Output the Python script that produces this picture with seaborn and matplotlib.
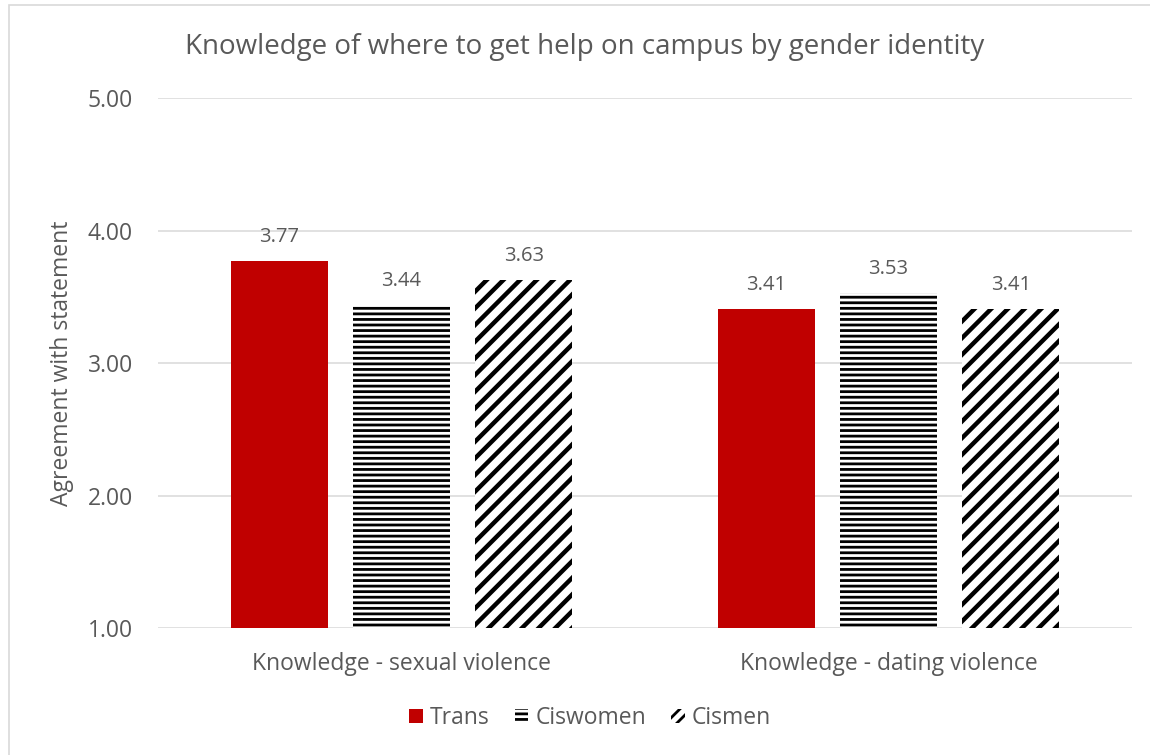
import pandas as pd
import matplotlib
matplotlib.use("Agg")
import matplotlib.pyplot as plt
import seaborn as sns
from matplotlib.patches import Rectangle

# Data
categories = ["Knowledge - sexual violence", "Knowledge - dating violence"]
groups = ["Trans", "Ciswomen", "Cismen"]
trans = [3.77, 3.41]
ciswomen = [3.44, 3.53]
cismen = [3.63, 3.41]
y_ticks = [1.00, 2.00, 3.00, 4.00, 5.00]

df = pd.DataFrame({
    "category": categories * 3,
    "group": ["Trans"] * 2 + ["Ciswomen"] * 2 + ["Cismen"] * 2,
    "value": trans + ciswomen + cismen,
})

sns.set_theme(style="white")
plt.rcParams["font.family"] = ["Open Sans", "DejaVu Sans"]
plt.rcParams["hatch.linewidth"] = 2.0
text_col = "#595959"
grid_col = "#D9D9D9"

fig = plt.figure(figsize=(11.5, 7.55), dpi=100)
ax = fig.add_axes([0.1374, 0.1682, 0.8469, 0.702])

palette = {"Trans": "#C00000", "Ciswomen": "white", "Cismen": "white"}
sns.barplot(data=df, x="category", y="value", hue="group", hue_order=groups,
            palette=palette, width=0.753, gap=0.203, ax=ax, legend=False,
            saturation=1, zorder=3)

hatches = {"Trans": None, "Ciswomen": "---", "Cismen": "//"}
hatch_lw = {"Trans": 1.0, "Ciswomen": 2.0, "Cismen": 3.2}


def style_hatch(p, g):
    if hatches[g]:
        p.set_edgecolor("black")
        p.set_hatch(hatches[g])
        p._hatch_linewidth = hatch_lw[g]
    p.set_linewidth(0)


for cont, g in zip(ax.containers, groups):
    for bar in cont:
        style_hatch(bar, g)
    ax.bar_label(cont, fmt="%.2f", padding=10, color=text_col, fontsize=14.5)

ax.set_ylim(1, 5)
ax.set_yticks(y_ticks)
ax.set_yticklabels([f"{t:.2f}" for t in y_ticks])
ax.yaxis.grid(True, color=grid_col, linewidth=1.1, zorder=0)
ax.set_axisbelow(True)
for s in ax.spines.values():
    s.set_visible(False)
ax.tick_params(axis="y", length=0, pad=18, labelsize=16.5, labelcolor=text_col)
ax.tick_params(axis="x", length=0, pad=17, labelsize=16.5, labelcolor=text_col)
ax.set_xlabel("")
ax.set_ylabel("")

fig.text(0.054, 0.519, "Agreement with statement", rotation=90, ha="center",
         va="center", fontsize=16.5, color=text_col)
fig.text(0.508, 0.938, "Knowledge of where to get help on campus by gender identity",
         ha="center", va="center", fontsize=20, color=text_col)

# legend
handles = []
for g in groups:
    r = Rectangle((0, 0), 1, 1, facecolor=palette[g])
    style_hatch(r, g)
    handles.append(r)
handles[2].set_hatch("///")
fig.legend(handles, groups, loc="center", bbox_to_anchor=(0.513, 0.049), ncol=3,
           frameon=False, handlelength=0.6, handleheight=0.6, handletextpad=0.3,
           columnspacing=1.1, fontsize=16.5, labelcolor=text_col)

# chart border
fig.patches.append(Rectangle((9 / 1150, -0.01), 1.0, 1 - 5 / 755 + 0.01,
                             transform=fig.transFigure, fill=False,
                             edgecolor=grid_col, linewidth=1.2))

fig.savefig("out.png", dpi=100)
